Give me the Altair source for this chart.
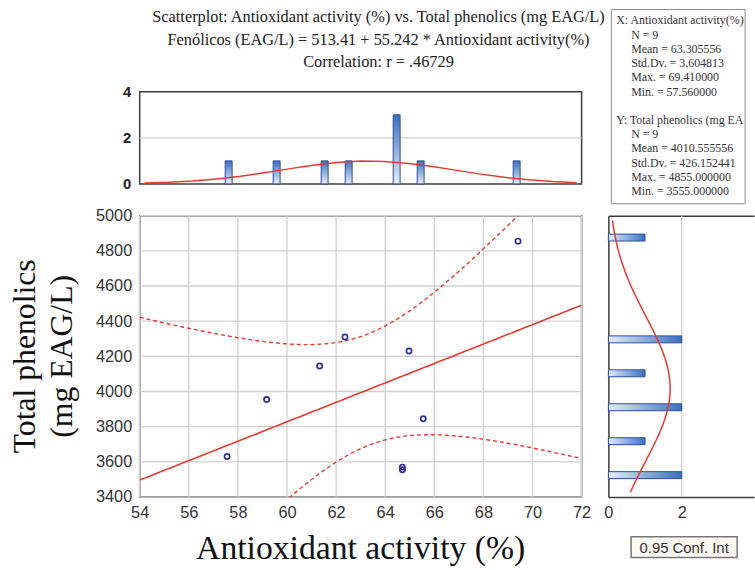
import altair as alt
import numpy as np
import pandas as pd

# ---------------------------------------------------------------- data
antiox = [57.56, 59.17, 61.33, 62.36, 64.70, 64.70, 64.97, 65.55, 69.41]
phenolics = [3630, 3955, 4145, 4310, 3570, 3555, 4230, 3845, 4855]

n_obs = 9
x_mean, x_sd, x_max, x_min = 63.305556, 3.604813, 69.41, 57.56
y_mean, y_sd, y_max, y_min = 4010.555556, 426.152441, 4855.0, 3555.0
intercept, slope, r_corr = 513.41, 55.242, 0.46729
t_crit = 2.364624  # Student t, 0.975 quantile, n - 2 = 7 df

x_domain = [54, 72]
y_domain = [3400, 5000]
count_domain = [0, 4]
x_ticks = [54, 56, 58, 60, 62, 64, 66, 68, 70, 72]
y_ticks = [3400, 3600, 3800, 4000, 4200, 4400, 4600, 4800, 5000]
count_ticks = [0, 2, 4]
x_bin_width = 1
y_bin_width = 200

title_lines = [
    "Scatterplot: Antioxidant activity (%) vs. Total phenolics (mg EAG/L)",
    "Fenólicos (EAG/L) = 513.41 + 55.242 * Antioxidant activity(%)",
    "Correlation: r = .46729",
]
x_title = "Antioxidant activity (%)"
y_title = ["Total phenolics", "(mg EAG/L)"]
stats_x_head = "X: Antioxidant activity(%)"
stats_y_head = "Y:  Total phenolics (mg EAG/L)"
stats_x_lines = [f"N = {n_obs}", f"Mean = {x_mean:.6f}", f"Std.Dv. = {x_sd:.6f}",
                 f"Max. = {x_max:.6f}", f"Min. = {x_min:.6f}"]
stats_y_lines = [f"N = {n_obs}", f"Mean = {y_mean:.6f}", f"Std.Dv. = {y_sd:.6f}",
                 f"Max. = {y_max:.6f}", f"Min. = {y_min:.6f}"]
ci_label = "0.95 Conf. Int"

# ------------------------------------------------------- derived tables
points = pd.DataFrame({"antiox": antiox, "phen": phenolics})

x_edges = np.arange(x_domain[0], x_domain[1] + x_bin_width, x_bin_width)
x_counts, _ = np.histogram(antiox, bins=x_edges)
top_bins = pd.DataFrame({"center": x_edges[:-1] + x_bin_width / 2, "count": x_counts})
top_bins = top_bins[top_bins["count"] > 0]

y_edges = np.arange(y_domain[0], y_domain[1] + y_bin_width, y_bin_width)
y_counts, _ = np.histogram(phenolics, bins=y_edges)
side_bins = pd.DataFrame({"center": y_edges[:-1] + y_bin_width / 2, "count": y_counts})
side_bins = side_bins[side_bins["count"] > 0]


def normal_counts(v, mu, sd, width):
    return n_obs * width * np.exp(-0.5 * ((v - mu) / sd) ** 2) / (sd * np.sqrt(2 * np.pi))


top_curve_x = np.arange(x_domain[0], x_domain[1] + 1, 1.0)
top_curve = pd.DataFrame({"v": top_curve_x,
                          "c": normal_counts(top_curve_x, x_mean, x_sd, x_bin_width)})
side_curve_y = np.linspace(y_domain[0], y_domain[1], 161)
side_curve = pd.DataFrame({"v": side_curve_y,
                           "c": normal_counts(side_curve_y, y_mean, y_sd, y_bin_width)})

# regression line with 95% confidence band for the mean
grid_x = np.linspace(x_domain[0], x_domain[1], 181)
s_resid = y_sd * np.sqrt((n_obs - 1) * (1 - r_corr ** 2) / (n_obs - 2))
sxx = (n_obs - 1) * x_sd ** 2
half = t_crit * s_resid * np.sqrt(1 / n_obs + (grid_x - x_mean) ** 2 / sxx)
fit_line = intercept + slope * grid_x
fit = pd.DataFrame({"x": grid_x, "fit": fit_line, "lo": fit_line - half, "hi": fit_line + half})

# ------------------------------------------------------------- styling
PLOT_W, MAIN_H, TOP_H, SIDE_W = 446, 284, 93, 147
SIDE_UNIT = 37.0                      # pixels per count on the side histogram
TOP_SPACE = 88                        # room above the top histogram
RED = "#e8392f"
POINT_BLUE = "#2f2f9c"
BAR_STROKE = "#2d4c9c"
FRAME = "#3c3c3c"
GRID = "#d0d0d0"
SERIF = "Liberation Serif"
SANS = "Liberation Sans"
LIGHT_BLUE, DARK_BLUE = "#e2edf9", "#3b70c0"

top_fill = alt.Gradient(gradient="linear",
                        stops=[alt.GradientStop(color=LIGHT_BLUE, offset=0),
                               alt.GradientStop(color=DARK_BLUE, offset=1)],
                        x1=0, x2=0, y1=1, y2=0)
side_fill = alt.Gradient(gradient="linear",
                         stops=[alt.GradientStop(color=LIGHT_BLUE, offset=0),
                                alt.GradientStop(color=DARK_BLUE, offset=1)],
                         x1=0, x2=1, y1=0, y2=0)

one_row = pd.DataFrame({"k": [0]})


def anchor(px, py):
    # transparent marker that fixes a corner of a panel's layout bounds
    return alt.Chart(one_row).mark_rule(stroke="transparent").encode(
        x=alt.value(px), x2=alt.value(px + 0.1), y=alt.value(py), y2=alt.value(py + 0.1))


def label(text, px, py, size, font=SERIF, align="center", baseline="alphabetic",
          angle=0, color="#1a1a1a", **kw):
    return alt.Chart(one_row).mark_text(
        text=text, font=font, fontSize=size, align=align, baseline=baseline,
        angle=angle, color=color, **kw).encode(x=alt.value(px), y=alt.value(py))


def box(px1, py1, px2, py2, fill, stroke, sw=1):
    return alt.Chart(one_row).mark_rect(fill=fill, stroke=stroke, strokeWidth=sw).encode(
        x=alt.value(px1), x2=alt.value(px2), y=alt.value(py1), y2=alt.value(py2))


x_scale = alt.Scale(domain=x_domain, nice=False, zero=False)
y_scale = alt.Scale(domain=y_domain, nice=False, zero=False)
count_scale = alt.Scale(domain=count_domain, nice=False)
side_scale = alt.Scale(domain=[0, SIDE_W / SIDE_UNIT], nice=False)

# ------------------------------------------------------ top histogram
top_x_axis = alt.Axis(labels=False, grid=False, title=None)
top_y_axis = alt.Axis(values=count_ticks, title=None, grid=False, labelPadding=9,
                      labelFontWeight="bold", labelColor="#222", labelFontSize=15)


def tx(field):
    return alt.X(field, scale=x_scale, axis=top_x_axis)


def ty(field):
    return alt.Y(field, scale=count_scale, axis=top_y_axis)


top_grid = alt.Chart(pd.DataFrame({"t": count_ticks[1:-1]})).mark_rule(
    color=GRID, strokeWidth=1.3).encode(y=ty("t:Q"))
top_bars = alt.Chart(top_bins).mark_bar(size=7, fill=top_fill, stroke=BAR_STROKE,
                                        strokeWidth=1).encode(x=tx("center:Q"), y=ty("count:Q"))
top_line = alt.Chart(top_curve).mark_line(color=RED, strokeWidth=1.5, clip=True).encode(
    x=tx("v:Q"), y=ty("c:Q"))

top_layers = [top_grid, top_bars, top_line]
for i, line in enumerate(title_lines):
    top_layers.append(label(line, 241, -70 + 22.5 * i, 16.5, color="#222"))

# summary statistics box
top_layers.append(box(476, -83, 611, 113, "#ffffff", "#8a8a8a", 1))
row_y = [-72 + 14.35 * k for k in range(13)]
stat_kw = dict(align="left", baseline="middle", color="#333")
top_layers.append(label(stats_x_head, 481, row_y[0], 12, **stat_kw))
for k, t in enumerate(stats_x_lines):
    top_layers.append(label(t, 496, row_y[1 + k], 12, **stat_kw))
top_layers.append(label(stats_y_head, 481, row_y[7], 12, limit=136, ellipsis=" ", **stat_kw))
for k, t in enumerate(stats_y_lines):
    top_layers.append(label(t, 496, row_y[8 + k], 12, **stat_kw))
top_layers += [anchor(-139, -TOP_SPACE), anchor(-139, 113.5)]

top_hist = alt.layer(*top_layers).properties(width=PLOT_W, height=TOP_H)

# ------------------------------------------------------- scatter panel
main_x_axis = alt.Axis(values=x_ticks, title=None, grid=False, labelPadding=8,
                       labelFlush=False, labelOverlap=False)
main_y_axis = alt.Axis(values=y_ticks, title=None, grid=False, labelPadding=8,
                       format="d", labelOverlap=False)


def mx(field):
    return alt.X(field, scale=x_scale, axis=main_x_axis)


def my(field):
    return alt.Y(field, scale=y_scale, axis=main_y_axis)


grid_v = alt.Chart(pd.DataFrame({"t": x_ticks})).mark_rule(
    color=GRID, strokeWidth=1.3).encode(x=mx("t:Q"))
grid_h = alt.Chart(pd.DataFrame({"t": y_ticks})).mark_rule(
    color=GRID, strokeWidth=1.3).encode(y=my("t:Q"))
reg = alt.Chart(fit).mark_line(color=RED, strokeWidth=1.6, clip=True).encode(
    x=mx("x:Q"), y=my("fit:Q"))
upper = alt.Chart(fit).mark_line(color=RED, strokeWidth=1.4, strokeDash=[4, 3],
                                 clip=True).encode(x=mx("x:Q"), y=my("hi:Q"))
lower = alt.Chart(fit).mark_line(color=RED, strokeWidth=1.4, strokeDash=[4, 3],
                                 clip=True).encode(x=mx("x:Q"), y=my("lo:Q"))
dots = alt.Chart(points).mark_point(shape="circle", filled=False, size=28, strokeWidth=1.7,
                                    color=POINT_BLUE, opacity=1).encode(
    x=mx("antiox:Q"), y=my("phen:Q"))

main = alt.layer(
    grid_v, grid_h, reg, upper, lower, dots,
    label(x_title, 223, 347, 34, color="#111"),
    label(y_title[0], -106, 142, 32, angle=270, color="#111"),
    label(y_title[1], -68, 142, 32, angle=270, color="#111"),
    anchor(-139, -8.5), anchor(457, -8.5),
).properties(width=PLOT_W, height=MAIN_H)

# ----------------------------------------------------- side histogram
side_x_axis = alt.Axis(values=count_ticks[:2], title=None, grid=False, labelPadding=8,
                       labelFlush=False, domain=True, domainColor=FRAME, domainWidth=1.5)
side_top_axis = alt.Axis(orient="top", labels=False, title=None, grid=False, domain=True,
                         domainColor=FRAME, domainWidth=1.5)
side_y_axis = alt.Axis(labels=False, grid=False, title=None, domain=True,
                       domainColor=FRAME, domainWidth=1.5)

side_grid = alt.Chart(pd.DataFrame({"t": count_ticks[1:2]})).mark_rule(
    color=GRID, strokeWidth=1.3).encode(
    x=alt.X("t:Q", scale=side_scale, axis=None))
side_bars = alt.Chart(side_bins).mark_bar(size=7, orient="horizontal", fill=side_fill,
                                          stroke=BAR_STROKE, strokeWidth=1).encode(
    x=alt.X("count:Q", scale=side_scale, axis=side_x_axis),
    y=alt.Y("center:Q", scale=y_scale, axis=side_y_axis))
side_line = alt.Chart(side_curve).mark_line(color=RED, strokeWidth=1.5, clip=True).encode(
    x=alt.X("c:Q", scale=side_scale, axis=side_top_axis),
    y=alt.Y("v:Q", scale=y_scale, axis=side_y_axis),
    order=alt.Order("v:Q"))

side_hist = alt.layer(
    side_grid, side_bars, side_line,
    box(23, 324, 130, 345, "#fbfaf2", "#777777", 1.5),
    label(ci_label, 76.5, 335, 15, font=SANS, baseline="middle", color="#333"),
    anchor(-12, -8.5),
).resolve_axis(x="independent").properties(
    width=SIDE_W, height=MAIN_H, view=alt.ViewBackground(stroke="transparent"))

chart = alt.vconcat(
    top_hist,
    alt.hconcat(main, side_hist, spacing=0),
    spacing=0,
).properties(
    padding=alt.Padding(left=0, top=0, right=0, bottom=0)
).configure_view(
    stroke=FRAME, strokeWidth=1.5
).configure_axis(
    labelFont=SANS, labelFontSize=16.5, labelColor="#333", domain=False, ticks=False,
    tickSize=0
)

chart.save("out.html", embed_options={"renderer": "svg", "actions": False})
